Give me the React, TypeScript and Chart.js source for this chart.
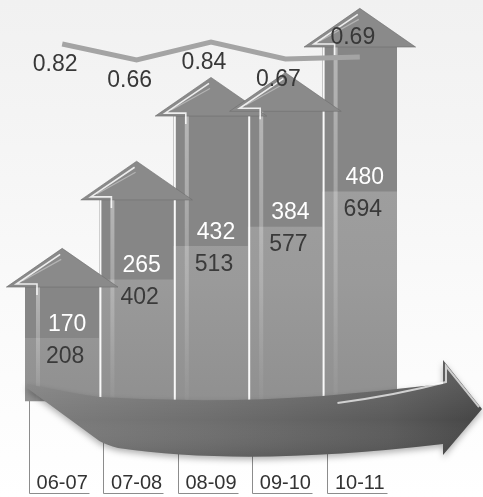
import { useEffect, useRef } from 'react';
import { Chart, registerables } from 'chart.js';

Chart.register(...registerables);

const categories = ['06-07', '07-08', '08-09', '09-10', '10-11'];
const upperValues = [170, 265, 432, 384, 480];
const lowerValues = [208, 402, 513, 577, 694];
const ratioValues = [0.82, 0.66, 0.84, 0.67, 0.69];

const FONT = "'Liberation Sans', Arial, Helvetica, sans-serif";

const bgPlugin = {
  id: 'bgPlugin',
  beforeDraw(chart: any) {
    const { ctx, width, height } = chart;
    const g = ctx.createLinearGradient(0, 0, 0, height);
    g.addColorStop(0, '#f1f1f1');
    g.addColorStop(0.3, '#f5f5f5');
    g.addColorStop(0.6, '#fafafa');
    g.addColorStop(1, '#ffffff');
    ctx.save();
    ctx.fillStyle = g;
    ctx.fillRect(0, 0, width, height);
    ctx.restore();
  },
};

const arrowPlugin = {
  id: 'arrowPlugin',
  beforeDatasetDraw(chart: any, args: any) {
    if (args.index !== 2) return;
    const ctx = chart.ctx;
    const upper = chart.getDatasetMeta(1).data;
    const area = chart.chartArea;
    const xs = chart.scales.x;
    const y0 = chart.scales.y.getPixelForValue(0);
    ctx.save();

    // separators & stripes
    upper.forEach((el: any, i: number) => {
      const { x, y, width } = el.getProps(['x', 'y', 'width'], true);
      const left = x - width / 2;
      if (i > 0) {
        ctx.fillStyle = 'rgba(255,255,255,0.95)';
        ctx.fillRect(left, y, 2, y0 - y);
      }
      const sg = ctx.createLinearGradient(0, y, 0, y0);
      sg.addColorStop(0, 'rgba(255,255,255,0.4)');
      sg.addColorStop(0.6, 'rgba(255,255,255,0.2)');
      sg.addColorStop(1, 'rgba(255,255,255,0.03)');
      ctx.fillStyle = sg;
      ctx.fillRect(left + 11, y, 4, y0 - y);
    });

    // arrow heads
    upper.forEach((el: any) => {
      const { x, y, width } = el.getProps(['x', 'y', 'width'], true);
      const half = width / 2;
      const over = width * 0.25;
      const h = width * 0.52;
      ctx.beginPath();
      ctx.moveTo(x - half - over, y);
      ctx.lineTo(x, y - h);
      ctx.lineTo(x + half + over, y);
      ctx.closePath();
      ctx.fillStyle = '#8a8a8a';
      ctx.fill();
      ctx.strokeStyle = 'rgba(110,110,110,0.6)';
      ctx.lineWidth = 1;
      ctx.stroke();
      ctx.beginPath();
      ctx.moveTo(x - half + 12, y + 8);
      ctx.lineTo(x - half + 12, y - 3);
      ctx.lineTo(x - half - over + 10, y - 3);
      ctx.lineTo(x - 2, y - h + 6);
      ctx.strokeStyle = 'rgba(255,255,255,0.85)';
      ctx.lineWidth = 1.6;
      ctx.stroke();
      ctx.beginPath();
      ctx.moveTo(x - half - over + 16, y - 6);
      ctx.lineTo(x - 1, y - h + 11);
      ctx.strokeStyle = 'rgba(255,255,255,0.35)';
      ctx.lineWidth = 1.2;
      ctx.stroke();
    });

    // category brackets
    categories.forEach((_, i) => {
      const w = xs.width / categories.length;
      const cx = xs.getPixelForValue(i);
      const lx = Math.round(cx - w / 2 + 4) + 0.5;
      ctx.beginPath();
      ctx.moveTo(lx, y0);
      ctx.lineTo(lx, chart.height - 3.5);
      ctx.lineTo(lx + 60, chart.height - 3.5);
      ctx.strokeStyle = '#8c8c8c';
      ctx.lineWidth = 1;
      ctx.stroke();
    });

    // big horizontal arrow
    const L = area.left;
    const W = xs.width / categories.length;
    const hx = L + 5 * W + 46;
    const tipX = chart.width - 1;
    ctx.beginPath();
    ctx.moveTo(L + 2, y0 - 17);
    ctx.quadraticCurveTo(L + W * 0.6, y0 - 8, L + W, y0 - 4);
    ctx.quadraticCurveTo(L + W * 2.5, y0 + 3, L + W * 4, y0 - 5);
    ctx.quadraticCurveTo(L + W * 4.8, y0 - 10, hx, y0 - 17);
    ctx.lineTo(hx, y0 - 41);
    ctx.lineTo(tipX, y0 + 8);
    ctx.lineTo(hx, y0 + 54);
    ctx.lineTo(hx, y0 + 43);
    ctx.quadraticCurveTo(L + W * 3.0, y0 + 66, L + W * 1.25, y0 + 47);
    ctx.quadraticCurveTo(L + W * 1.1, y0 + 44, L + W, y0 + 40);
    ctx.lineTo(L + 2, y0 - 13);
    ctx.closePath();
    const ag = ctx.createLinearGradient(L, 0, tipX, 0);
    ag.addColorStop(0, '#7e7e7e');
    ag.addColorStop(0.4, '#6e6e6e');
    ag.addColorStop(0.8, '#5a5a5a');
    ag.addColorStop(1, '#454545');
    ctx.fillStyle = ag;
    ctx.shadowColor = 'rgba(0,0,0,0.3)';
    ctx.shadowBlur = 6;
    ctx.shadowOffsetY = 3;
    ctx.fill();
    ctx.shadowColor = 'transparent';
    const vg = ctx.createLinearGradient(0, y0 - 20, 0, y0 + 58);
    vg.addColorStop(0, 'rgba(255,255,255,0.1)');
    vg.addColorStop(0.5, 'rgba(255,255,255,0)');
    vg.addColorStop(1, 'rgba(0,0,0,0.12)');
    ctx.fillStyle = vg;
    ctx.fill();
    ctx.beginPath();
    ctx.moveTo(L + W * 4.2, y0 + 2);
    ctx.quadraticCurveTo(L + W * 5, y0 - 6, hx + 3, y0 - 19);
    ctx.lineTo(hx + 3, y0 - 35);
    ctx.lineTo(tipX - 3, y0 + 6);
    ctx.strokeStyle = 'rgba(255,255,255,0.7)';
    ctx.lineWidth = 2;
    ctx.stroke();
    ctx.restore();
  },
};

const labelPlugin = {
  id: 'labelPlugin',
  afterDatasetsDraw(chart: any) {
    const ctx = chart.ctx;
    const upper = chart.getDatasetMeta(1).data;
    const lower = chart.getDatasetMeta(0).data;
    const line = chart.getDatasetMeta(2).data;
    ctx.save();
    ctx.font = `23px ${FONT}`;
    ctx.textAlign = 'center';
    ctx.textBaseline = 'middle';
    upper.forEach((el: any, i: number) => {
      const { x, base } = el.getProps(['x', 'base'], true);
      ctx.fillStyle = '#ffffff';
      ctx.fillText(String(upperValues[i]), x + 5, base - 14);
    });
    lower.forEach((el: any, i: number) => {
      const { x, y } = el.getProps(['x', 'y'], true);
      ctx.fillStyle = '#3a3a3a';
      ctx.fillText(String(lowerValues[i]), x + 3, y + 18);
    });
    line.forEach((pt: any, i: number) => {
      const { x, y } = pt.getProps(['x', 'y'], true);
      const last = i === line.length - 1;
      ctx.fillStyle = '#383838';
      ctx.fillText(ratioValues[i].toFixed(2), x - 7, last ? y - 19 : y + 21);
    });
    ctx.restore();
  },
};

export default function App() {
  const ref = useRef<HTMLCanvasElement | null>(null);
  useEffect(() => {
    if (!ref.current) return;
    const chart = new Chart(ref.current, {
      type: 'bar',
      data: {
        labels: categories,
        datasets: [
          {
            type: 'bar',
            data: lowerValues,
            stack: 's',
            order: 1,
            yAxisID: 'y',
            borderWidth: 0,
            barPercentage: 1,
            categoryPercentage: 1,
            backgroundColor: (c: any) => {
              const a = c.chart.chartArea;
              if (!a) return '#9c9c9c';
              const g = c.chart.ctx.createLinearGradient(0, a.top, 0, a.bottom);
              g.addColorStop(0, '#a6a6a6');
              g.addColorStop(0.6, '#9a9a9a');
              g.addColorStop(1, '#8a8a8a');
              return g;
            },
          },
          {
            type: 'bar',
            data: upperValues,
            stack: 's',
            order: 1,
            yAxisID: 'y',
            borderWidth: 0,
            barPercentage: 1,
            categoryPercentage: 1,
            backgroundColor: '#868686',
          },
          {
            type: 'line',
            data: ratioValues,
            order: 0,
            yAxisID: 'y2',
            borderColor: '#a4a4a4',
            borderWidth: 5,
            pointRadius: 0,
            tension: 0,
            fill: false,
          },
        ],
      } as any,
      options: {
        animation: false,
        responsive: false,
        events: [],
        layout: { padding: { left: 25, right: 86, top: 0, bottom: 2 } },
        plugins: {
          legend: { display: false },
          tooltip: { enabled: false },
          title: { display: false },
        },
        scales: {
          x: {
            stacked: true,
            grid: { display: false, drawTicks: false },
            border: { display: false },
            ticks: {
              padding: 0,
              color: '#333333',
              font: { family: FONT, size: 20 },
              maxRotation: 0,
              autoSkip: false,
            },
          },
          y: {
            stacked: true,
            display: false,
            min: -232,
            max: 1330,
          },
          y2: {
            display: false,
            min: -3.45,
            max: 1.26,
          },
        },
      } as any,
      plugins: [bgPlugin, arrowPlugin, labelPlugin],
    });
    return () => chart.destroy();
  }, []);
  return (
    <div style={{ position: 'fixed', left: 0, top: 0, width: 483, height: 497 }}>
      <canvas ref={ref} width={483} height={497} style={{ display: 'block' }} />
    </div>
  );
}
